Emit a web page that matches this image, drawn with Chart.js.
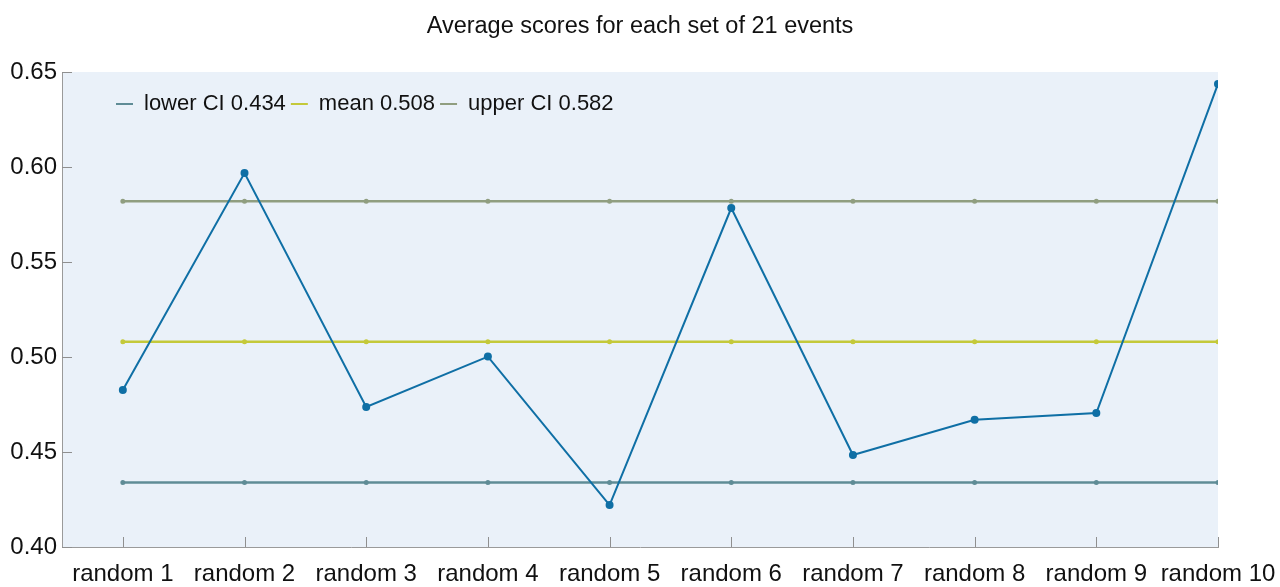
<!DOCTYPE html>
<html>
<head>
<meta charset="utf-8">
<script src="https://cdn.jsdelivr.net/npm/chart.js@4.4.1/dist/chart.umd.min.js"></script>
<style>
  html, body { margin: 0; padding: 0; background: #ffffff; }
  #wrap { width: 1280px; height: 587px; position: relative; }
</style>
</head>
<body>
<div id="wrap"><canvas id="c"></canvas></div>
<script>
const categories = ['random 1', 'random 2', 'random 3', 'random 4', 'random 5',
                    'random 6', 'random 7', 'random 8', 'random 9', 'random 10'];
const scores = [0.4826, 0.5968, 0.4737, 0.5002, 0.4221, 0.5784, 0.4484, 0.4670, 0.4705, 0.6437];
const lowerCI = [0.434, 0.434, 0.434, 0.434, 0.434, 0.434, 0.434, 0.434, 0.434, 0.434];
const meanLine = [0.508, 0.508, 0.508, 0.508, 0.508, 0.508, 0.508, 0.508, 0.508, 0.508];
const upperCI = [0.582, 0.582, 0.582, 0.582, 0.582, 0.582, 0.582, 0.582, 0.582, 0.582];
const seriesLabels = ['scores', 'lower CI 0.434', 'mean 0.508', 'upper CI 0.582'];
const yTicks = [0.40, 0.45, 0.50, 0.55, 0.60, 0.65];

const FONT = '"Liberation Sans", Arial, Helvetica, sans-serif';
const toPts = arr => arr.map((v, i) => ({ x: i + 1, y: v }));

const bgPlugin = {
  id: 'plotBg',
  beforeDraw(chart) {
    const { ctx, chartArea: a } = chart;
    ctx.save();
    ctx.fillStyle = '#eaf1f9';
    ctx.fillRect(a.left, a.top, a.right - a.left, a.bottom - a.top);
    ctx.restore();
    if (chart.legend) {
      chart.legend.left = a.left + 49;
      chart.legend.top = a.top + 16;
      chart.legend.right = a.right;
      chart.legend.bottom = a.top + 70;
    }
  },
  beforeDatasetsDraw(chart) {
    const { ctx, chartArea: a, scales } = chart;
    ctx.save();
    ctx.strokeStyle = '#8f8f8f';
    ctx.lineWidth = 1;
    ctx.beginPath();
    scales.x.ticks.forEach(t => {
      const px = Math.round(scales.x.getPixelForValue(t.value)) + 0.5;
      ctx.moveTo(px, a.bottom);
      ctx.lineTo(px, a.bottom - 10);
    });
    scales.y.ticks.forEach(t => {
      const py = Math.round(scales.y.getPixelForValue(t.value)) + 0.5;
      ctx.moveTo(a.left, py);
      ctx.lineTo(a.left + 10, py);
    });
    ctx.stroke();
    ctx.restore();
  }
};

const ciStyle = color => ({
  borderColor: color, backgroundColor: color, borderWidth: 2.5,
  pointRadius: 1.5, pointBorderWidth: 2, pointBackgroundColor: color, pointBorderColor: color
});

new Chart(document.getElementById('c'), {
  type: 'line',
  data: {
    datasets: [
      { label: seriesLabels[0], data: toPts(scores), borderColor: '#0f6fa5', backgroundColor: '#0f6fa5',
        borderWidth: 2, pointRadius: 4, pointBackgroundColor: '#0f6fa5', pointBorderWidth: 0, tension: 0 },
      Object.assign({ label: seriesLabels[1], data: toPts(lowerCI) }, ciStyle('#5f8c96')),
      Object.assign({ label: seriesLabels[2], data: toPts(meanLine) }, ciStyle('#c4c93a')),
      Object.assign({ label: seriesLabels[3], data: toPts(upperCI) }, ciStyle('#909e80'))
    ]
  },
  options: {
    responsive: true,
    maintainAspectRatio: false,
    animation: false,
    layout: { padding: { left: 0, right: 0, top: 0, bottom: 0 } },
    plugins: {
      title: {
        display: true,
        text: 'Average scores for each set of 21 events',
        color: '#111111',
        font: { family: FONT, size: 23.5, weight: 'normal' },
        padding: { top: 12, bottom: 0 }
      },
      legend: {
        position: 'top',
        align: 'start',
        maxHeight: 31.8,
        labels: {
          filter: item => item.datasetIndex > 0,
          color: '#111111',
          font: { family: FONT, size: 22 },
          usePointStyle: true,
          pointStyle: 'line',
          pointStyleWidth: 17,
          boxHeight: 22,
          padding: 5
        }
      },
      tooltip: { enabled: false }
    },
    scales: {
      x: {
        type: 'linear',
        min: 0.5,
        max: 10,
        afterBuildTicks: s => { s.ticks = categories.map((_, i) => ({ value: i + 1 })); },
        afterFit: s => { s.height = 40; s.paddingLeft = 0; s.paddingRight = 0; },
        grid: { display: false, drawTicks: false },
        border: { display: true, color: '#9a9a9a', width: 1 },
        ticks: {
          autoSkip: false, maxRotation: 0, minRotation: 0, padding: 13,
          color: '#111111', font: { family: FONT, size: 24 },
          callback: v => categories[v - 1]
        }
      },
      y: {
        min: 0.4,
        max: 0.65,
        afterBuildTicks: s => { s.ticks = yTicks.map(v => ({ value: v })); },
        afterFit: s => { s.width = 62; s.paddingTop = 0; s.paddingBottom = 0; },
        grid: { display: false, drawTicks: false },
        border: { display: true, color: '#9a9a9a', width: 1 },
        ticks: {
          padding: 5, color: '#111111', font: { family: FONT, size: 24 },
          callback: v => Number(v).toFixed(2)
        }
      },
      yRight: {
        type: 'linear',
        position: 'right',
        display: true,
        min: 0.4,
        max: 0.65,
        afterFit: s => { s.width = 62; s.paddingTop = 0; s.paddingBottom = 0; },
        grid: { display: false, drawTicks: false },
        border: { display: false },
        ticks: { display: false }
      }
    }
  },
  plugins: [bgPlugin]
});
</script>
</body>
</html>
